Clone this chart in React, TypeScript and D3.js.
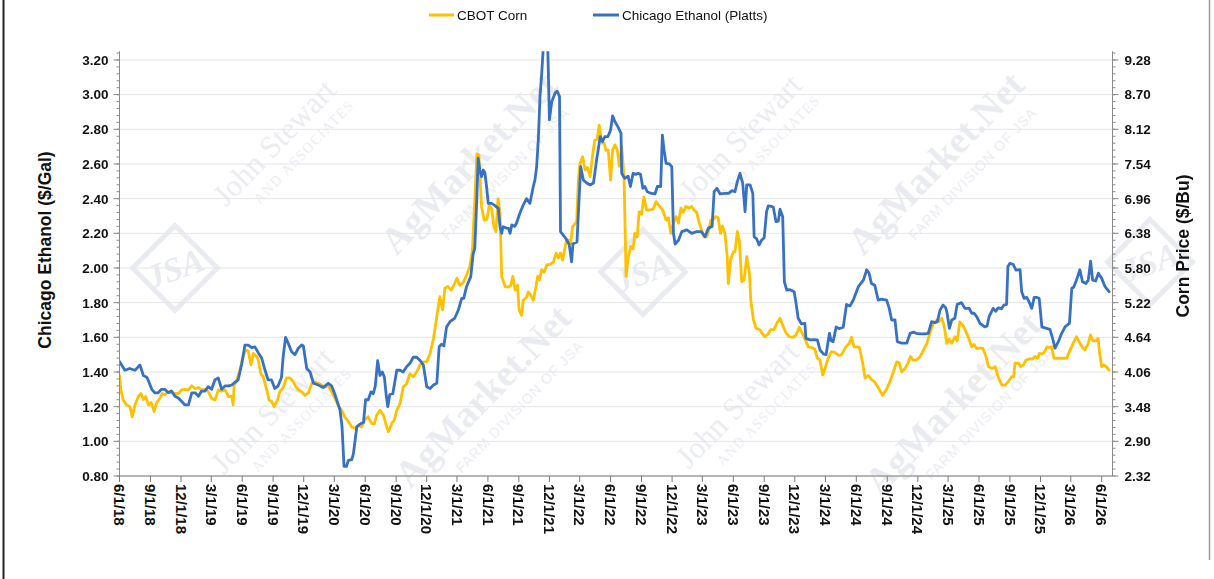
import React from "react";
import * as d3 from "d3";

type Pt = [string, number];

// Chicago Ethanol (Platts), $/Gal
const ethanolSeries: Pt[] = [
  ["2018-06-01",1.46],["2018-06-17",1.41],["2018-07-01",1.42],["2018-07-17",1.41],["2018-08-01",1.44],["2018-08-11",1.38],["2018-08-21",1.37],["2018-08-26",1.35],
  ["2018-09-05",1.30],["2018-09-14",1.28],["2018-09-24",1.28],["2018-10-04",1.30],["2018-10-14",1.30],["2018-10-24",1.28],["2018-11-03",1.29],["2018-11-13",1.26],
  ["2018-11-23",1.25],["2018-12-03",1.23],["2018-12-13",1.21],["2018-12-23",1.21],["2019-01-02",1.28],["2019-01-12",1.28],["2019-01-22",1.26],["2019-01-31",1.29],
  ["2019-02-10",1.29],["2019-02-20",1.315],["2019-03-02",1.30],["2019-03-12",1.355],["2019-03-22",1.365],["2019-04-01",1.30],["2019-04-11",1.32],["2019-04-21",1.32],
  ["2019-05-01",1.325],["2019-05-10",1.34],["2019-05-20",1.355],["2019-05-31",1.45],["2019-06-09",1.555],["2019-06-19",1.555],["2019-06-29",1.54],["2019-07-09",1.545],
  ["2019-07-19",1.51],["2019-07-29",1.48],["2019-08-08",1.41],["2019-08-17",1.355],["2019-08-27",1.355],["2019-09-06",1.305],["2019-09-16",1.32],["2019-09-26",1.37],
  ["2019-10-01",1.49],["2019-10-08",1.60],["2019-10-16",1.565],["2019-10-26",1.517],["2019-11-05",1.50],["2019-11-15",1.537],["2019-11-25",1.556],["2019-11-30",1.55],
  ["2019-12-10",1.42],["2019-12-20",1.40],["2019-12-30",1.335],["2020-01-13",1.325],["2020-01-28",1.31],["2020-02-12",1.335],["2020-02-22",1.32],["2020-03-03",1.27],
  ["2020-03-18",1.18],["2020-03-24",1.085],["2020-03-30",0.855],["2020-04-06",0.855],["2020-04-12",0.89],["2020-04-22",0.895],["2020-04-27",0.93],["2020-05-07",1.085],
  ["2020-05-17",1.10],["2020-05-27",1.11],["2020-06-02",1.24],["2020-06-10",1.24],["2020-06-18",1.285],["2020-06-25",1.275],["2020-07-01",1.32],["2020-07-08",1.465],
  ["2020-07-15",1.38],["2020-07-22",1.40],["2020-07-28",1.37],["2020-08-02",1.275],["2020-08-07",1.20],["2020-08-13",1.27],["2020-08-22",1.275],["2020-09-03",1.41],
  ["2020-09-13",1.41],["2020-09-22",1.40],["2020-10-02",1.43],["2020-10-12",1.45],["2020-10-22",1.485],["2020-11-01",1.485],["2020-11-11",1.467],["2020-11-21",1.44],
  ["2020-12-01",1.315],["2020-12-11",1.305],["2020-12-21",1.325],["2020-12-31",1.335],["2021-01-07",1.546],["2021-01-14",1.56],["2021-01-21",1.55],["2021-01-29",1.66],
  ["2021-02-08",1.69],["2021-02-22",1.71],["2021-03-05",1.757],["2021-03-15",1.825],["2021-03-21",1.825],["2021-03-29",1.89],["2021-04-11",1.95],["2021-04-18",2.08],
  ["2021-04-23",2.113],["2021-04-29",2.40],["2021-05-03",2.633],["2021-05-08",2.565],["2021-05-13",2.527],["2021-05-18",2.565],["2021-05-23",2.55],["2021-05-28",2.47],
  ["2021-06-02",2.373],["2021-06-12",2.373],["2021-06-22",2.36],["2021-07-02",2.344],["2021-07-07",2.238],["2021-07-12",2.20],["2021-07-16",2.238],["2021-07-27",2.23],
  ["2021-08-01",2.229],["2021-08-06",2.20],["2021-08-11",2.248],["2021-08-20",2.24],["2021-08-25",2.258],["2021-09-04",2.316],["2021-09-14",2.363],["2021-09-24",2.40],
  ["2021-10-04",2.373],["2021-10-14",2.47],["2021-10-19",2.508],["2021-10-24",2.585],["2021-10-29",2.74],["2021-11-03",2.99],["2021-11-08",3.12],["2021-11-12",3.25],
  ["2021-11-19",3.42],["2021-11-26",3.28],["2021-12-01",2.854],["2021-12-08",2.96],["2021-12-18",3.01],["2021-12-24",3.02],["2021-12-31",2.99],["2022-01-03",2.21],
  ["2022-01-11",2.19],["2022-01-19",2.17],["2022-01-29",2.133],["2022-02-05",2.036],["2022-02-09",2.14],["2022-02-21",2.15],["2022-02-27",2.39],["2022-03-04",2.584],
  ["2022-03-12",2.508],["2022-03-22",2.49],["2022-04-01",2.479],["2022-04-11",2.49],["2022-04-15",2.546],["2022-04-21",2.633],["2022-04-25",2.68],["2022-05-01",2.758],
  ["2022-05-08",2.73],["2022-05-15",2.758],["2022-05-24",2.758],["2022-06-01",2.796],["2022-06-07",2.877],["2022-06-14",2.844],["2022-06-24",2.81],["2022-07-02",2.777],
  ["2022-07-04",2.546],["2022-07-13",2.517],["2022-07-23",2.53],["2022-07-30",2.47],["2022-08-07",2.546],["2022-08-15",2.54],["2022-08-22",2.546],["2022-08-29",2.54],
  ["2022-09-05",2.46],["2022-09-11",2.47],["2022-09-18",2.44],["2022-10-01",2.43],["2022-10-11",2.427],["2022-10-18",2.47],["2022-10-28",2.47],["2022-11-02",2.767],
  ["2022-11-07",2.68],["2022-11-13",2.604],["2022-11-23",2.60],["2022-11-30",2.585],["2022-12-05",2.20],["2022-12-10",2.138],["2022-12-20",2.16],["2022-12-30",2.21],
  ["2023-01-14",2.22],["2023-01-28",2.20],["2023-02-12",2.21],["2023-02-26",2.21],["2023-03-09",2.18],["2023-03-19",2.23],["2023-03-30",2.24],["2023-04-05",2.44],
  ["2023-04-13",2.46],["2023-04-23",2.427],["2023-05-08",2.43],["2023-05-18",2.43],["2023-05-28",2.446],["2023-06-06",2.44],["2023-06-13",2.498],["2023-06-21",2.546],
  ["2023-06-29",2.488],["2023-07-06",2.325],["2023-07-11",2.479],["2023-07-21",2.479],["2023-07-29",2.43],["2023-08-02",2.18],["2023-08-09",2.17],["2023-08-17",2.133],
  ["2023-08-24",2.16],["2023-09-01",2.175],["2023-09-08",2.325],["2023-09-13",2.358],["2023-09-23",2.355],["2023-09-28",2.35],["2023-10-06",2.267],["2023-10-13",2.27],
  ["2023-10-18",2.339],["2023-10-26",2.296],["2023-10-31",1.92],["2023-11-07",1.873],["2023-11-17",1.875],["2023-11-29",1.863],["2023-12-04",1.806],["2023-12-11",1.71],
  ["2023-12-21",1.677],["2023-12-31",1.68],["2024-01-03",1.594],["2024-01-15",1.585],["2024-01-29",1.586],["2024-02-06",1.585],["2024-02-14",1.527],["2024-02-24",1.504],
  ["2024-03-03",1.50],["2024-03-13",1.623],["2024-03-18",1.58],["2024-03-24",1.575],["2024-04-02",1.66],["2024-04-11",1.65],["2024-04-23",1.658],["2024-05-03",1.79],
  ["2024-05-13",1.78],["2024-05-23",1.815],["2024-06-07",1.892],["2024-06-22",1.93],["2024-07-02",1.99],["2024-07-09",1.97],["2024-07-16",1.91],["2024-07-26",1.90],
  ["2024-08-05",1.815],["2024-08-15",1.82],["2024-08-30",1.815],["2024-09-07",1.767],["2024-09-14",1.70],["2024-09-24",1.70],["2024-10-01",1.575],["2024-10-14",1.566],
  ["2024-10-29",1.566],["2024-11-08",1.623],["2024-11-18",1.63],["2024-11-26",1.623],["2024-12-08",1.62],["2024-12-23",1.62],["2025-01-01",1.623],["2025-01-11",1.69],
  ["2025-01-21",1.685],["2025-01-28",1.69],["2025-02-05",1.757],["2025-02-14",1.786],["2025-02-22",1.77],["2025-02-26",1.739],["2025-03-05",1.652],["2025-03-12",1.70],
  ["2025-03-21",1.71],["2025-03-28",1.79],["2025-04-10",1.80],["2025-04-20",1.767],["2025-05-03",1.767],["2025-05-10",1.739],["2025-05-17",1.739],["2025-05-25",1.72],
  ["2025-06-04",1.68],["2025-06-18",1.66],["2025-06-25",1.665],["2025-07-01",1.719],["2025-07-13",1.767],["2025-07-21",1.75],["2025-07-28",1.77],["2025-08-07",1.765],
  ["2025-08-14",1.786],["2025-08-22",1.79],["2025-08-26",2.008],["2025-09-01",2.027],["2025-09-11",2.02],["2025-09-19",1.988],["2025-10-01",1.99],["2025-10-06",1.863],
  ["2025-10-13",1.825],["2025-10-21",1.83],["2025-10-29",1.80],["2025-11-05",1.767],["2025-11-12",1.83],["2025-11-19",1.83],["2025-11-27",1.825],["2025-12-05",1.66],
  ["2025-12-14",1.655],["2025-12-29",1.646],["2026-01-06",1.594],["2026-01-13",1.537],["2026-01-23",1.575],["2026-02-02",1.623],["2026-02-12",1.66],["2026-02-25",1.68],
  ["2026-03-04",1.883],["2026-03-10",1.89],["2026-03-18",1.93],["2026-03-28",1.99],["2026-04-05",1.92],["2026-04-15",1.91],["2026-04-22",1.93],["2026-04-29",2.04],
  ["2026-05-05",1.93],["2026-05-14",1.925],["2026-05-22",1.97],["2026-06-01",1.94],["2026-06-11",1.892],["2026-06-23",1.863]
];

// CBOT Corn, $/Bu
const cornSeries: Pt[] = [
  ["2018-06-01",4.00],["2018-06-05",3.76],["2018-06-12",3.59],["2018-06-22",3.51],["2018-07-02",3.48],["2018-07-09",3.31],["2018-07-17",3.51],["2018-07-27",3.65],
  ["2018-08-04",3.70],["2018-08-11",3.60],["2018-08-18",3.65],["2018-08-26",3.51],["2018-09-03",3.55],["2018-09-12",3.40],["2018-09-19",3.54],["2018-09-29",3.62],
  ["2018-10-06",3.70],["2018-10-14",3.68],["2018-10-24",3.73],["2018-11-03",3.71],["2018-11-13",3.70],["2018-11-23",3.70],["2018-12-03",3.76],["2018-12-13",3.77],
  ["2018-12-23",3.76],["2019-01-02",3.83],["2019-01-12",3.78],["2019-01-22",3.80],["2019-01-31",3.76],["2019-02-10",3.77],["2019-02-20",3.73],["2019-03-02",3.62],
  ["2019-03-12",3.59],["2019-03-22",3.76],["2019-04-01",3.74],["2019-04-11",3.76],["2019-04-21",3.65],["2019-05-01",3.65],["2019-05-05",3.51],["2019-05-08",3.84],
  ["2019-05-15",3.90],["2019-05-25",4.09],["2019-06-04",4.32],["2019-06-12",4.43],["2019-06-19",4.41],["2019-06-27",4.18],["2019-07-04",4.37],["2019-07-14",4.32],
  ["2019-07-19",4.26],["2019-07-26",4.04],["2019-08-03",3.97],["2019-08-13",3.76],["2019-08-20",3.59],["2019-08-27",3.57],["2019-09-04",3.48],["2019-09-14",3.59],
  ["2019-09-21",3.73],["2019-10-01",3.80],["2019-10-11",3.96],["2019-10-21",3.96],["2019-10-31",3.90],["2019-11-08",3.81],["2019-11-15",3.76],["2019-11-25",3.73],
  ["2019-12-05",3.67],["2019-12-15",3.71],["2019-12-25",3.87],["2020-01-04",3.89],["2020-01-14",3.87],["2020-01-24",3.84],["2020-02-02",3.81],["2020-02-12",3.83],
  ["2020-02-22",3.73],["2020-03-03",3.62],["2020-03-13",3.49],["2020-03-23",3.42],["2020-04-01",3.31],["2020-04-12",3.23],["2020-04-22",3.14],["2020-05-01",3.12],
  ["2020-05-11",3.16],["2020-05-21",3.14],["2020-05-31",3.26],["2020-06-10",3.31],["2020-06-20",3.20],["2020-06-28",3.19],["2020-07-05",3.34],["2020-07-15",3.42],
  ["2020-07-25",3.34],["2020-08-04",3.14],["2020-08-09",3.06],["2020-08-19",3.20],["2020-08-26",3.25],["2020-09-03",3.42],["2020-09-13",3.54],["2020-09-22",3.81],
  ["2020-10-02",3.86],["2020-10-12",4.03],["2020-10-22",3.98],["2020-11-01",4.06],["2020-11-11",4.18],["2020-11-21",4.23],["2020-12-01",4.23],["2020-12-11",4.37],
  ["2020-12-21",4.62],["2020-12-31",4.99],["2021-01-09",5.32],["2021-01-17",5.10],["2021-01-24",5.46],["2021-02-02",5.49],["2021-02-12",5.43],["2021-02-22",5.54],
  ["2021-03-01",5.63],["2021-03-09",5.51],["2021-03-19",5.55],["2021-03-28",5.66],["2021-04-08",5.82],["2021-04-16",6.10],["2021-04-19",6.49],["2021-04-24",7.05],
  ["2021-04-29",7.71],["2021-05-05",7.69],["2021-05-13",6.83],["2021-05-21",6.60],["2021-05-29",6.61],["2021-06-05",6.85],["2021-06-12",6.79],["2021-06-19",6.49],
  ["2021-06-25",6.41],["2021-07-01",6.96],["2021-07-07",6.72],["2021-07-12",5.66],["2021-07-22",5.49],["2021-08-01",5.48],["2021-08-08",5.51],["2021-08-14",5.66],
  ["2021-08-21",5.43],["2021-08-28",5.51],["2021-09-02",5.10],["2021-09-09",5.01],["2021-09-14",5.26],["2021-09-24",5.31],["2021-09-29",5.40],["2021-10-06",5.35],
  ["2021-10-14",5.26],["2021-10-22",5.49],["2021-10-27",5.66],["2021-11-01",5.60],["2021-11-08",5.77],["2021-11-15",5.73],["2021-11-23",5.85],["2021-12-03",5.86],
  ["2021-12-13",5.90],["2021-12-21",6.05],["2021-12-28",5.97],["2022-01-03",6.05],["2022-01-09",5.93],["2022-01-16",6.13],["2022-01-21",6.27],["2022-01-29",6.26],
  ["2022-02-02",6.21],["2022-02-08",6.49],["2022-02-20",6.57],["2022-02-25",7.27],["2022-03-02",7.55],["2022-03-10",7.66],["2022-03-17",7.44],["2022-03-24",7.48],
  ["2022-04-01",7.33],["2022-04-09",7.71],["2022-04-15",7.94],["2022-04-22",7.95],["2022-04-28",8.19],["2022-05-06",7.89],["2022-05-13",7.89],["2022-05-18",7.77],
  ["2022-05-25",7.77],["2022-06-01",7.27],["2022-06-07",7.77],["2022-06-14",7.86],["2022-06-21",7.77],["2022-06-27",7.50],["2022-07-04",7.83],["2022-07-11",7.33],
  ["2022-07-17",5.66],["2022-07-24",5.99],["2022-07-31",6.16],["2022-08-07",6.12],["2022-08-12",6.38],["2022-08-19",6.32],["2022-08-25",6.74],["2022-09-01",6.70],
  ["2022-09-08",6.99],["2022-09-16",6.77],["2022-09-26",6.77],["2022-10-06",6.79],["2022-10-14",6.91],["2022-10-24",6.84],["2022-11-03",6.77],["2022-11-13",6.60],
  ["2022-11-20",6.64],["2022-11-27",6.38],["2022-12-05",6.55],["2022-12-13",6.66],["2022-12-20",6.55],["2022-12-27",6.80],["2023-01-03",6.73],["2023-01-11",6.83],
  ["2023-01-21",6.80],["2023-01-28",6.83],["2023-02-04",6.77],["2023-02-12",6.73],["2023-02-19",6.57],["2023-02-26",6.44],["2023-03-06",6.32],["2023-03-14",6.32],
  ["2023-03-19",6.41],["2023-03-26",6.60],["2023-04-02",6.61],["2023-04-10",6.66],["2023-04-17",6.64],["2023-04-24",6.38],["2023-04-30",6.50],["2023-05-07",6.38],
  ["2023-05-14",5.99],["2023-05-17",5.54],["2023-05-24",5.93],["2023-06-01",6.07],["2023-06-06",6.07],["2023-06-13",6.41],["2023-06-19",6.26],["2023-06-26",5.57],
  ["2023-07-03",5.60],["2023-07-11",5.99],["2023-07-19",5.71],["2023-07-23",5.26],["2023-07-31",4.93],["2023-08-08",4.79],["2023-08-18",4.77],["2023-08-25",4.71],
  ["2023-09-03",4.65],["2023-09-13",4.70],["2023-09-20",4.77],["2023-09-30",4.77],["2023-10-10",4.89],["2023-10-18",4.96],["2023-10-26",4.84],["2023-11-05",4.71],
  ["2023-11-15",4.65],["2023-11-25",4.64],["2023-12-04",4.67],["2023-12-14",4.81],["2023-12-21",4.73],["2023-12-31",4.62],["2024-01-10",4.48],["2024-01-20",4.47],
  ["2024-01-30",4.44],["2024-02-06",4.29],["2024-02-14",4.26],["2024-02-22",4.01],["2024-02-29",4.12],["2024-03-09",4.29],["2024-03-19",4.40],["2024-03-29",4.39],
  ["2024-04-08",4.34],["2024-04-18",4.35],["2024-05-01",4.48],["2024-05-11",4.54],["2024-05-18",4.64],["2024-05-25",4.48],["2024-06-02",4.48],["2024-06-10",4.47],
  ["2024-06-20",4.21],["2024-06-27",3.96],["2024-07-07",4.00],["2024-07-17",3.93],["2024-07-26",3.89],["2024-08-05",3.80],["2024-08-18",3.67],["2024-08-30",3.77],
  ["2024-09-09",3.90],["2024-09-19",4.06],["2024-09-29",4.23],["2024-10-07",4.21],["2024-10-14",4.06],["2024-10-24",4.12],["2024-11-02",4.21],["2024-11-09",4.32],
  ["2024-11-17",4.26],["2024-11-27",4.26],["2024-12-08",4.32],["2024-12-18",4.43],["2024-12-28",4.54],["2025-01-06",4.71],["2025-01-16",4.87],["2025-01-27",4.93],
  ["2025-02-02",4.90],["2025-02-10",4.96],["2025-02-17",4.84],["2025-02-25",4.54],["2025-03-05",4.61],["2025-03-12",4.54],["2025-03-21",4.65],["2025-03-28",4.58],
  ["2025-04-05",4.90],["2025-04-15",4.83],["2025-04-25",4.71],["2025-05-03",4.60],["2025-05-10",4.48],["2025-05-17",4.52],["2025-05-25",4.45],["2025-06-02",4.46],
  ["2025-06-12",4.46],["2025-06-22",4.32],["2025-06-29",4.15],["2025-07-09",4.12],["2025-07-19",4.15],["2025-07-29",3.96],["2025-08-08",3.84],["2025-08-18",3.84],
  ["2025-08-27",3.90],["2025-09-06",3.98],["2025-09-12",3.98],["2025-09-16",4.21],["2025-09-26",4.21],["2025-10-03",4.15],["2025-10-11",4.18],["2025-10-19",4.26],
  ["2025-10-29",4.28],["2025-11-07",4.28],["2025-11-15",4.32],["2025-11-22",4.29],["2025-11-28",4.37],["2025-12-05",4.36],["2025-12-12",4.39],["2025-12-20",4.48],
  ["2025-12-28",4.47],["2026-01-03",4.48],["2026-01-10",4.29],["2026-01-20",4.29],["2026-01-30",4.29],["2026-02-07",4.29],["2026-02-17",4.29],["2026-02-27",4.43],
  ["2026-03-08",4.54],["2026-03-18",4.65],["2026-03-28",4.54],["2026-04-05",4.47],["2026-04-12",4.43],["2026-04-22",4.54],["2026-04-29",4.68],["2026-05-06",4.58],
  ["2026-05-14",4.58],["2026-05-21",4.62],["2026-05-26",4.37],["2026-06-01",4.15],["2026-06-07",4.18],["2026-06-15",4.15],["2026-06-23",4.09]
];

const ethanolTicks = [0.8, 1.0, 1.2, 1.4, 1.6, 1.8, 2.0, 2.2, 2.4, 2.6, 2.8, 3.0, 3.2];
const cornTicks = [2.32, 2.9, 3.48, 4.06, 4.64, 5.22, 5.8, 6.38, 6.96, 7.54, 8.12, 8.7, 9.28];
const dateTicks = [
  "6/1/18","9/1/18","12/1/18","3/1/19","6/1/19","9/1/19","12/1/19","3/1/20","6/1/20","9/1/20","12/1/20",
  "3/1/21","6/1/21","9/1/21","12/1/21","3/1/22","6/1/22","9/1/22","12/1/22","3/1/23","6/1/23","9/1/23","12/1/23",
  "3/1/24","6/1/24","9/1/24","12/1/24","3/1/25","6/1/25","9/1/25","12/1/25","3/1/26","6/1/26"
];
const seriesNames = ["CBOT Corn", "Chicago Ethanol (Platts)"];
const seriesColors = ["#FFC000", "#3771C4"];
const axisTitles = ["Chicago Ethanol ($/Gal)", "Corn Price ($/Bu)"];

const parseDate = d3.timeParse("%Y-%m-%d");
const parseTick = d3.timeParse("%m/%d/%y");
const FONT = "'Liberation Sans', Arial, Helvetica, sans-serif";
const SERIF = "'Liberation Serif', 'DejaVu Serif', serif";

export default function App() {
  const W = 1214, H = 579;
  const L = 119.5, R = 1112.5, T = 51.3, B = 476;
  const x = d3.scaleTime()
    .domain([parseTick(dateTicks[0]) as Date, parseTick(dateTicks[dateTicks.length - 1]) as Date])
    .range([L, 1101.7]);
  const yE = d3.scaleLinear().domain([0.8, 3.25]).range([B, T]);
  const yC = d3.scaleLinear().domain([2.32, 9.425]).range([B, T]);

  const lineE = d3.line<Pt>().x(d => x(parseDate(d[0]) as Date)).y(d => yE(d[1])).curve(d3.curveLinear);
  const lineC = d3.line<Pt>().x(d => x(parseDate(d[0]) as Date)).y(d => yC(d[1])).curve(d3.curveLinear);

  const minorE = d3.range(0, 62).map(i => 0.8 + i * 0.04);
  const fmt = d3.format(".2f");

  const wmColor = "#e2e4ec";
  const agmarks = [[478, 172], [945, 172], [492, 405], [962, 412]];
  const jsas = [[282, 150], [748, 145], [280, 418], [745, 412]];
  const logos = [[175, 268], [643, 272], [1150, 262]];

  return (
    <svg width={W} height={H} style={{ position: "absolute", left: 0, top: 0, background: "#fff" }}
      xmlns="http://www.w3.org/2000/svg">
      <defs>
        <clipPath id="plotclip">
          <rect x={L} y={T} width={R - L} height={B - T + 2} />
        </clipPath>
      </defs>
      <rect x={0} y={0} width={W} height={H} fill="#fff" />

      {/* watermark */}
      <g fill={wmColor} opacity={0.75}>
        {agmarks.map(([cx, cy], i) => (
          <g key={"ag" + i} transform={`translate(${cx},${cy}) rotate(-46)`}>
            <text textAnchor="middle" fontFamily={SERIF} fontWeight="bold" fontSize={38}>AgMarket.Net</text>
            <text textAnchor="middle" y={26} x={18} fontFamily={FONT} fontSize={14} letterSpacing={1}>FARM DIVISION OF JSA</text>
          </g>
        ))}
        {jsas.map(([cx, cy], i) => (
          <g key={"js" + i} transform={`translate(${cx},${cy}) rotate(-46)`}>
            <text textAnchor="middle" fontFamily={SERIF} fontSize={31}>John Stewart</text>
            <text textAnchor="middle" y={22} x={14} fontFamily={SERIF} fontSize={14} letterSpacing={1.5}>AND ASSOCIATES</text>
          </g>
        ))}
        {logos.map(([cx, cy], i) => (
          <g key={"lg" + i} transform={`translate(${cx},${cy})`}>
            <rect x={-30} y={-30} width={60} height={60} transform="rotate(45)" fill="none" stroke={wmColor} strokeWidth={5} />
            <text textAnchor="middle" y={12} fontFamily={SERIF} fontStyle="italic" fontWeight="bold" fontSize={34} transform="rotate(-20)">JSA</text>
          </g>
        ))}
      </g>

      {/* gridlines */}
      {ethanolTicks.map(t => (
        <line key={"g" + t} x1={L} x2={R} y1={yE(t)} y2={yE(t)} stroke="#e6e6e6" strokeWidth={1} />
      ))}

      {/* series */}
      <g clipPath="url(#plotclip)" fill="none" strokeLinejoin="round" strokeLinecap="round">
        <path d={lineC(cornSeries) || ""} stroke={seriesColors[0]} strokeWidth={2.8} />
        <path d={lineE(ethanolSeries) || ""} stroke={seriesColors[1]} strokeWidth={2.8} />
      </g>

      {/* left axis */}
      <line x1={L} x2={L} y1={T} y2={B} stroke="#8a8a8a" strokeWidth={1} />
      {minorE.map((t, i) => (
        <line key={"ml" + i} x1={L - 3} x2={L} y1={yE(t)} y2={yE(t)} stroke="#8a8a8a" strokeWidth={1} />
      ))}
      {ethanolTicks.map(t => (
        <g key={"lt" + t}>
          <line x1={L - 6} x2={L} y1={yE(t)} y2={yE(t)} stroke="#8a8a8a" strokeWidth={1} />
          <text x={L - 11} y={yE(t)} dy="0.36em" textAnchor="end" fontFamily={FONT} fontWeight="bold" fontSize={13.5} fill="#111">{fmt(t)}</text>
        </g>
      ))}

      {/* right axis */}
      <line x1={R} x2={R} y1={T} y2={B} stroke="#8a8a8a" strokeWidth={1} />
      {minorE.map((t, i) => (
        <line key={"mr" + i} x1={R} x2={R + 3} y1={yE(t)} y2={yE(t)} stroke="#8a8a8a" strokeWidth={1} />
      ))}
      {cornTicks.map(t => (
        <g key={"rt" + t}>
          <line x1={R} x2={R + 6} y1={yC(t)} y2={yC(t)} stroke="#8a8a8a" strokeWidth={1} />
          <text x={R + 12} y={yC(t)} dy="0.36em" textAnchor="start" fontFamily={FONT} fontWeight="bold" fontSize={13.5} fill="#111">{fmt(t)}</text>
        </g>
      ))}

      {/* bottom axis */}
      <line x1={L} x2={R} y1={B} y2={B} stroke="#7a7a7a" strokeWidth={1.2} />
      {dateTicks.map(s => {
        const xx = x(parseTick(s) as Date);
        return (
          <g key={"xt" + s}>
            <line x1={xx} x2={xx} y1={B} y2={B + 6} stroke="#7a7a7a" strokeWidth={1} />
            <text transform={`translate(${xx},${B + 8}) rotate(90)`} dy="0.36em" textAnchor="start"
              fontFamily={FONT} fontWeight="bold" fontSize={15} fill="#111">{s}</text>
          </g>
        );
      })}

      {/* axis titles */}
      <text transform={`translate(45,250) rotate(-90)`} dy="0.36em" textAnchor="middle" fontFamily={FONT}
        fontWeight="bold" fontSize={17.5} fill="#111">{axisTitles[0]}</text>
      <text transform={`translate(1183,246) rotate(-90)`} dy="0.36em" textAnchor="middle" fontFamily={FONT}
        fontWeight="bold" fontSize={17.5} fill="#111">{axisTitles[1]}</text>

      {/* legend */}
      <g fontFamily={FONT} fontSize={13.5} fill="#111">
        <line x1={429} x2={454} y1={15} y2={15} stroke={seriesColors[0]} strokeWidth={3} />
        <text x={457} y={15} dy="0.36em">{seriesNames[0]}</text>
        <line x1={593} x2={619} y1={15} y2={15} stroke={seriesColors[1]} strokeWidth={3} />
        <text x={622} y={15} dy="0.36em">{seriesNames[1]}</text>
      </g>

      {/* frame edges */}
      <line x1={3.5} x2={3.5} y1={0} y2={H} stroke="#222" strokeWidth={2} />
      <line x1={1209.5} x2={1209.5} y1={0} y2={560} stroke="#9a9a9a" strokeWidth={1.5} />
    </svg>
  );
}
